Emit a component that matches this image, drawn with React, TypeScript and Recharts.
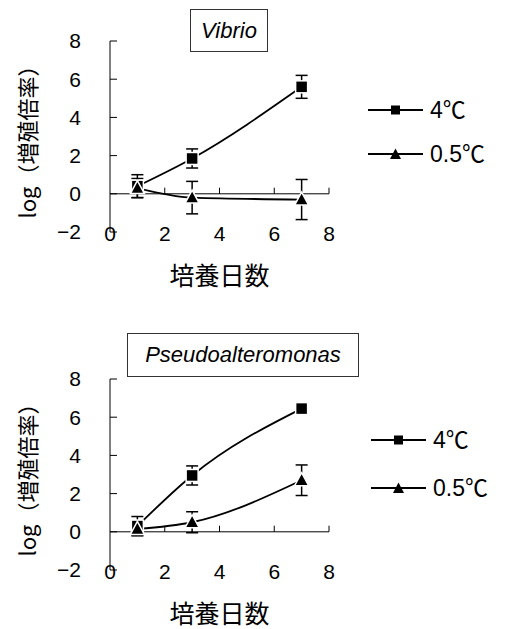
import React from 'react';
import {
  LineChart,
  Line,
  XAxis,
  YAxis,
  ErrorBar,
  ReferenceLine,
  Legend,
} from 'recharts';

const FONT = '"Liberation Sans", Arial, "Noto Sans CJK JP", sans-serif';
const JP_FONT = '"Noto Sans CJK JP", "Liberation Sans", sans-serif';

// 培養日数
const days = [1, 3, 7];
const xTicks = [0, 2, 4, 6, 8];
const yTicks = [-2, 0, 2, 4, 6, 8];
const seriesNames = ['4℃', '0.5℃'];

// Vibrio
const vibrio4 = [0.4, 1.85, 5.6];
const vibrio4Err = [0.6, 0.5, 0.6];
const vibrio05 = [0.3, -0.2, -0.3];
const vibrio05Err = [0.5, 0.85, 1.05];

// Pseudoalteromonas
const pseudo4 = [0.3, 2.95, 6.45];
const pseudo4Err = [0.5, 0.5, 0.1];
const pseudo05 = [0.15, 0.5, 2.7];
const pseudo05Err = [0.35, 0.55, 0.8];

const buildRows = (a: number[], aErr: number[], b: number[], bErr: number[]) =>
  days.map((d, i) => ({ day: d, c4: a[i], c4Err: aErr[i], c05: b[i], c05Err: bErr[i] }));

const vibrioData = buildRows(vibrio4, vibrio4Err, vibrio05, vibrio05Err);
const pseudoData = buildRows(pseudo4, pseudo4Err, pseudo05, pseudo05Err);

const SquareDot = (props: any) => {
  const { cx, cy } = props;
  if (cx == null || cy == null) return null;
  return <rect x={cx - 6} y={cy - 6} width={12} height={12} fill="#000" stroke="#fff" strokeWidth={1.5} />;
};

const TriangleDot = (props: any) => {
  const { cx, cy } = props;
  if (cx == null || cy == null) return null;
  return (
    <polygon
      points={`${cx},${cy - 7.5} ${cx + 7},${cy + 5.5} ${cx - 7},${cy + 5.5}`}
      fill="#000"
      stroke="#fff"
      strokeWidth={1.5}
    />
  );
};

const XTick = (props: any) => {
  const { x, y, payload } = props;
  return (
    <text x={x} y={y + 9} textAnchor="middle" fill="#000" fontSize={21} fontFamily={FONT}>
      {payload.value}
    </text>
  );
};

const legendMarker = (name: string) =>
  name === seriesNames[0] ? (
    <rect x={23} y={5.5} width={9} height={9} fill="#000" />
  ) : (
    <polygon points="27.5,4.5 33,15 22,15" fill="#000" />
  );

const makeLegend = (gap: number) => (props: any) => {
  const items = seriesNames
    .map((n) => props.payload.find((p: any) => p.value === n))
    .filter(Boolean);
  return (
    <div>
      {items.map((entry: any, i: number) => (
        <div
          key={`leg-${i}`}
          style={{ display: 'flex', alignItems: 'center', height: 20, marginBottom: gap }}
        >
          <svg width={56} height={20}>
            <line x1={0} y1={10} x2={55} y2={10} stroke="#000" strokeWidth={1.8} />
            {legendMarker(entry.value)}
          </svg>
          <span style={{ marginLeft: 6, fontSize: 23, fontFamily: FONT, color: '#000', lineHeight: '20px' }}>
            {entry.value}
          </span>
        </div>
      ))}
    </div>
  );
};

interface PanelProps {
  data: any[];
  legendTop: number;
  legendLeft: number;
  legendGap: number;
}

const Panel: React.FC<PanelProps> = ({ data, legendTop, legendLeft, legendGap }) => (
  <LineChart width={507} height={296} data={data} margin={{ top: 41, right: 178, bottom: 0, left: 0 }}>
    <XAxis
      type="number"
      dataKey="day"
      domain={[0, 8]}
      ticks={xTicks}
      interval={0}
      axisLine={false}
      tickLine={false}
      tickSize={0}
      tickMargin={0}
      height={64}
      tick={XTick}
      label={{
        value: '培養日数',
        position: 'insideBottom',
        offset: 11,
        fill: '#000',
        fontSize: 25,
        fontFamily: JP_FONT,
      }}
    />
    <YAxis
      type="number"
      domain={[-2, 8]}
      ticks={yTicks}
      interval={0}
      width={110}
      axisLine={{ stroke: '#000', strokeWidth: 1 }}
      tickLine={{ stroke: '#000', strokeWidth: 1 }}
      tickSize={-7}
      tickMargin={36}
      tickFormatter={(v: number) => String(v).replace('-', '−')}
      tick={{ fill: '#000', fontSize: 21, fontFamily: FONT }}
      label={{
        value: 'log（増殖倍率）',
        angle: -90,
        position: 'center',
        dx: -27,
        fill: '#000',
        fontSize: 22,
        fontFamily: JP_FONT,
      }}
    />
    <ReferenceLine y={0} stroke="#000" strokeWidth={1} />
    {xTicks
      .filter((t) => t > 0)
      .map((t) => (
        <ReferenceLine
          key={`xt-${t}`}
          segment={[
            { x: t, y: 0 },
            { x: t, y: 0.32 },
          ]}
          stroke="#000"
          strokeWidth={1}
        />
      ))}
    <Line
      type="monotone"
      dataKey="c4"
      name={seriesNames[0]}
      stroke="#000"
      strokeWidth={1.8}
      dot={SquareDot}
      activeDot={false}
      isAnimationActive={false}
    >
      <ErrorBar dataKey="c4Err" direction="y" width={6} stroke="#000" strokeWidth={1.5} />
    </Line>
    <Line
      type="monotone"
      dataKey="c05"
      name={seriesNames[1]}
      stroke="#000"
      strokeWidth={1.8}
      dot={TriangleDot}
      activeDot={false}
      isAnimationActive={false}
    >
      <ErrorBar dataKey="c05Err" direction="y" width={6} stroke="#000" strokeWidth={1.5} />
    </Line>
    <Legend
      layout="vertical"
      align="center"
      verticalAlign="middle"
      content={makeLegend(legendGap)}
      wrapperStyle={{ position: 'absolute', left: legendLeft, top: legendTop, width: 140 }}
    />
  </LineChart>
);

const TitleBox: React.FC<{ text: string; left: number; top: number; width: number; height: number }> = ({
  text,
  left,
  top,
  width,
  height,
}) => (
  <div
    style={{
      position: 'absolute',
      left,
      top,
      width,
      height,
      boxSizing: 'border-box',
      border: '1px solid #333',
      display: 'flex',
      alignItems: 'center',
      justifyContent: 'center',
      fontFamily: FONT,
      fontStyle: 'italic',
      fontSize: 22,
      color: '#000',
      background: '#fff',
    }}
  >
    {text}
  </div>
);

export default function App() {
  return (
    <div
      style={{
        position: 'absolute',
        left: 0,
        top: 0,
        width: 507,
        height: 629,
        overflow: 'hidden',
        background: '#fff',
      }}
    >
      <div style={{ position: 'absolute', left: 0, top: 0 }}>
        <Panel data={vibrioData} legendTop={100} legendLeft={368} legendGap={24} />
      </div>
      <div style={{ position: 'absolute', left: 0, top: 338 }}>
        <Panel data={pseudoData} legendTop={92} legendLeft={371} legendGap={28} />
      </div>
      <TitleBox text="Vibrio" left={190} top={9} width={78} height={43} />
      <TitleBox text="Pseudoalteromonas" left={127} top={333} width={232} height={44} />
    </div>
  );
}
